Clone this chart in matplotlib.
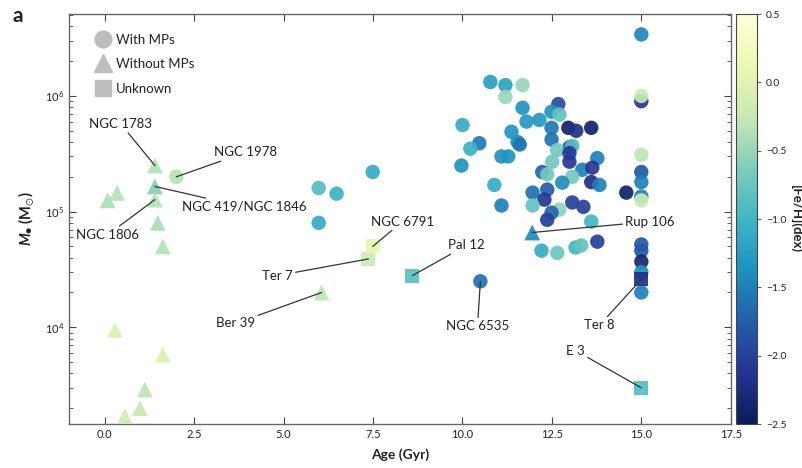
import numpy as np
import matplotlib
matplotlib.use("Agg")
import matplotlib.pyplot as plt
from matplotlib.lines import Line2D

plt.rcParams['font.family'] = ['Lato', 'DejaVu Sans']
plt.rcParams['mathtext.fontset'] = 'custom'
plt.rcParams['mathtext.it'] = 'Lato:italic:bold'
plt.rcParams['mathtext.bf'] = 'Lato:bold'
plt.rcParams['mathtext.rm'] = 'Lato'
plt.rcParams['mathtext.fallback'] = 'stixsans'

# ---------------- data ----------------
# clusters with multiple populations (circles)
mp_age = [2.0, 5.98, 6.48, 5.98, 7.49, 10.5,
          10.78, 11.20, 11.68, 11.20, 11.68, 12.68, 12.49, 12.71, 12.15, 11.79,
          12.49, 12.96, 13.18, 13.60, 10.0, 11.37, 11.54, 11.60, 10.47, 10.22,
          12.49, 12.99, 13.07, 12.65, 12.99, 11.09, 11.28, 9.97, 12.99, 12.51,
          13.77, 13.35, 13.63, 12.23, 12.37, 13.07, 13.60, 13.83, 10.89, 12.79,
          11.96, 12.37, 12.29, 11.96, 11.09, 12.71, 13.07, 13.38, 12.49, 12.37,
          13.60, 12.21, 12.65, 13.16, 13.32, 13.77,
          15.0, 15.0, 15.0, 15.0, 15.0, 15.0, 15.0, 15.0, 14.58,
          15.0, 15.0, 15.0, 15.0, 15.0]
mp_mass = [2.0e5, 1.6e5, 1.43e5, 8.0e4, 2.2e5, 2.5e4,
           1.32e6, 1.24e6, 1.24e6, 9.8e5, 7.9e5, 8.5e5, 7.3e5, 6.9e5, 6.2e5, 6.0e5,
           5.3e5, 5.3e5, 5.0e5, 5.3e5, 5.6e5, 4.9e5, 4.0e5, 3.8e5, 3.9e5, 3.5e5,
           4.2e5, 3.6e5, 3.7e5, 3.4e5, 3.2e5, 3.0e5, 3.0e5, 2.5e5, 2.7e5, 2.7e5,
           2.9e5, 2.3e5, 2.4e5, 2.2e5, 2.1e5, 2.0e5, 1.8e5, 1.7e5, 1.7e5, 1.78e5,
           1.46e5, 1.55e5, 1.27e5, 1.13e5, 1.13e5, 1.04e5, 1.2e5, 1.1e5, 9.8e4, 8.5e4,
           8.2e4, 4.6e4, 4.4e4, 4.9e4, 5.1e4, 5.5e4,
           3.4e6, 9.0e5, 1.0e6, 3.1e5, 2.2e5, 1.8e5, 1.35e5, 1.25e5, 1.46e5,
           5.2e4, 4.6e4, 3.7e4, 3.0e4, 2.0e4]
mp_feh = [-0.35, -0.9, -1.05, -1.1, -1.1, -1.6,
          -1.25, -1.2, -0.5, -0.5, -1.35, -1.9, -1.35, -0.8, -1.3, -1.3,
          -1.55, -2.4, -2.2, -2.4, -1.1, -1.35, -1.35, -1.6, -1.55, -1.05,
          -1.6, -1.8, -0.9, -0.7, -2.1, -1.35, -1.35, -1.35, -2.1, -0.7,
          -1.5, -1.5, -2.1, -1.7, -0.7, -0.7, -2.2, -1.5, -1.1, -1.4,
          -1.6, -1.75, -2.1, -0.8, -1.5, -0.55, -2.0, -2.0, -1.7, -2.0,
          -1.0, -1.1, -0.75, -1.0, -0.8, -2.0,
          -1.45, -2.1, -0.25, -0.3, -1.8, -1.5, -1.5, -0.2, -2.4,
          -1.8, -1.8, -2.35, -1.4, -1.5]

# clusters without multiple populations (triangles)
nomp_age = [1.4, 1.4, 1.4, 1.48, 1.62, 0.08, 0.34, 0.28, 1.62, 1.12, 0.98, 0.56, 6.06, 11.95]
nomp_mass = [2.5e5, 1.65e5, 1.27e5, 8.0e4, 5.0e4, 1.25e5, 1.45e5, 9.5e3, 5.8e3, 2.9e3, 2.0e3, 1.7e3, 2.0e4, 6.6e4]
nomp_feh = [-0.35, -0.6, -0.35, -0.4, -0.35, -0.4, -0.35, -0.05, -0.05, -0.3, -0.25, -0.15, -0.3, -1.4]

# unknown (squares)
unk_age = [7.37, 7.49, 8.6, 15.0, 15.0]
unk_mass = [3.9e4, 5.0e4, 2.8e4, 2.6e4, 3.0e3]
unk_feh = [-0.2, 0.05, -0.85, -2.2, -0.9]

# labels: name, point age, point mass, text age, text mass, ha
labels = ["NGC 1783", "NGC 1978", "NGC 419/NGC 1846", "NGC 1806", "Ber 39", "Ter 7",
          "NGC 6791", "Pal 12", "NGC 6535", "Rup 106", "Ter 8", "E 3"]
lab_age = [1.4, 2.0, 1.4, 1.4, 6.06, 7.37, 7.49, 8.6, 10.5, 11.95, 15.0, 15.0]
lab_mass = [2.5e5, 2.0e5, 1.65e5, 1.27e5, 2.0e4, 3.9e4, 5.0e4, 2.8e4, 2.5e4, 6.6e4, 2.6e4, 3.0e3]
txt_age = [0.45, 3.94, 2.15, 0.08, 3.66, 4.83, 8.32, 10.11, 10.42, 14.55, 13.83, 13.16]
txt_mass = [5.7e5, 3.25e5, 1.1e5, 6.3e4, 1.08e4, 2.8e4, 8.2e4, 5.1e4, 1.02e4, 8.2e4, 1.04e4, 6.3e3]
txt_ha = ["center", "center", "left", "center", "center", "center",
          "center", "center", "center", "left", "center", "center"]

xticks = [0.0, 2.5, 5.0, 7.5, 10.0, 12.5, 15.0, 17.5]
cbar_ticks = [0.5, 0.0, -0.5, -1.0, -1.5, -2.0, -2.5]

# ---------------- figure ----------------
fig = plt.figure(figsize=(8.03, 4.68), dpi=100)
ax = fig.add_axes([0.086, 0.094, 0.824, 0.876])
cax = fig.add_axes([0.9166, 0.094, 0.026, 0.876])

cmap = plt.get_cmap('YlGnBu_r')
norm = matplotlib.colors.Normalize(vmin=-2.5, vmax=0.5)

ms = 108
sc = ax.scatter(mp_age, mp_mass, c=mp_feh, cmap=cmap, norm=norm, s=ms, marker='o',
                edgecolors='none', alpha=0.92, zorder=3)
ax.scatter(nomp_age, nomp_mass, c=nomp_feh, cmap=cmap, norm=norm, s=ms * 1.2, marker='^',
           edgecolors='none', alpha=0.92, zorder=3)
ax.scatter(unk_age, unk_mass, c=unk_feh, cmap=cmap, norm=norm, s=ms * 0.95, marker='s',
           edgecolors='none', alpha=0.92, zorder=3)

for name, pa, pm, ta, tm, ha in zip(labels, lab_age, lab_mass, txt_age, txt_mass, txt_ha):
    ax.annotate(name, xy=(pa, pm), xytext=(ta, tm), ha=ha, va='center', fontsize=9.5,
                color='#231f20',
                arrowprops=dict(arrowstyle='-', color='#333333', lw=0.9, shrinkA=0, shrinkB=0),
                zorder=4)

ax.set_yscale('log')
ax.set_xlim(-1.0, 17.5)
ax.set_ylim(1.46e3, 5.1e6)
ax.set_xticks(xticks)
ax.set_xticklabels([f"{t:.1f}" for t in xticks])
ax.tick_params(which='both', direction='in', top=True, right=True, colors='#444444',
               labelcolor='#231f20', labelsize=8)
ax.tick_params(which='major', length=5, width=0.8)
ax.tick_params(which='minor', length=3, width=0.6)
for s in ax.spines.values():
    s.set_color('#666666')
    s.set_linewidth(1.0)

ax.set_xlabel('Age (Gyr)', fontsize=10, fontweight='bold', color='#231f20', labelpad=6)
ax.set_ylabel('$M_{\u25cf}$ (M$_{\\odot}$)', fontsize=10.5, fontweight='bold',
              color='#231f20', labelpad=6)

# legend
handles = [Line2D([], [], marker='o', ls='none', color='#bdbdbd', markersize=12),
           Line2D([], [], marker='^', ls='none', color='#bdbdbd', markersize=13),
           Line2D([], [], marker='s', ls='none', color='#bdbdbd', markersize=11)]
leg = ax.legend(handles, ['With MPs', 'Without MPs', 'Unknown'], loc='upper left',
                bbox_to_anchor=(0.025, 0.975), frameon=False, fontsize=9.5,
                handletextpad=0.4, labelspacing=0.95, borderpad=0.2, handlelength=1.2)
for t in leg.get_texts():
    t.set_color('#231f20')

cb = fig.colorbar(sc, cax=cax)
cb.solids.set_alpha(1)
cb.set_ticks(cbar_ticks)
cb.set_ticklabels([f"{t:.1f}".replace('-', '\u2212') for t in cbar_ticks])
cb.ax.tick_params(labelsize=7.5, length=3, width=0.6, colors='#444444', labelcolor='#231f20')
cb.outline.set_edgecolor('#444444')
cb.set_label('[Fe/H](dex)', rotation=270, fontsize=9.5, fontweight='bold',
             color='#231f20', labelpad=12)

fig.text(0.016, 0.965, 'a', fontsize=15, fontweight='bold', color='#231f20', va='center')

fig.savefig('out.png', dpi=100)
